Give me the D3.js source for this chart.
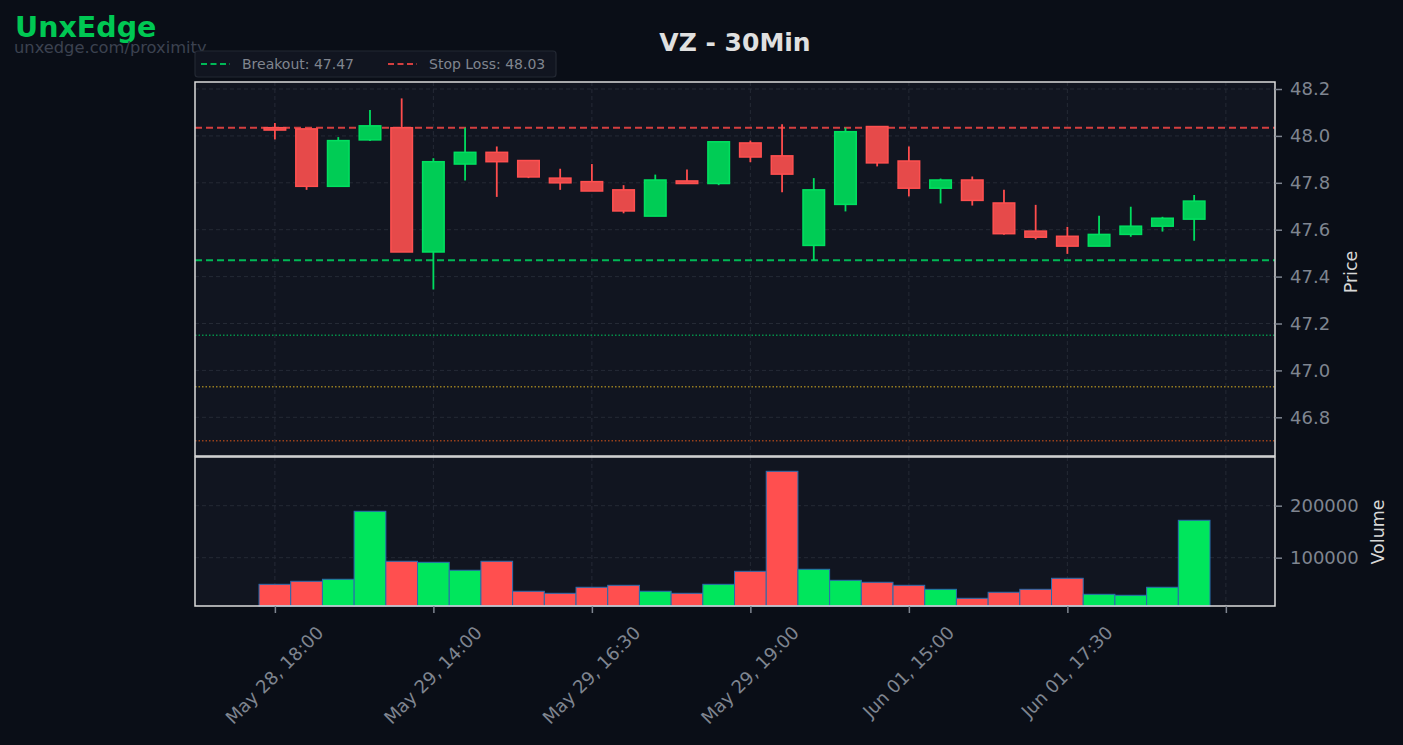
<!DOCTYPE html>
<html><head><meta charset="utf-8">
<script src="https://cdn.jsdelivr.net/npm/d3@7"></script>
<style>
html,body{margin:0;padding:0;background:#0a0e17;}
svg{display:block;font-family:"DejaVu Sans",sans-serif;}
</style></head><body>
<svg id="chart" width="1403" height="745"></svg>
<script>
// ---------- DATA ----------
const categories = [
  "May 28, 18:00","May 28, 18:30","May 28, 19:00","May 28, 19:30",
  "May 29, 13:30","May 29, 14:00","May 29, 14:30","May 29, 15:00","May 29, 15:30","May 29, 16:00",
  "May 29, 16:30","May 29, 17:00","May 29, 17:30","May 29, 18:00","May 29, 18:30",
  "May 29, 19:00","May 29, 19:30","Jun 01, 13:30","Jun 01, 14:00","Jun 01, 14:30",
  "Jun 01, 15:00","Jun 01, 15:30","Jun 01, 16:00","Jun 01, 16:30","Jun 01, 17:00",
  "Jun 01, 17:30","Jun 01, 18:00","Jun 01, 18:30","Jun 01, 19:00","Jun 01, 19:30"
];
const opens  = [48.035,48.030,47.785,47.983,48.035,47.505,47.880,47.930,47.895,47.820,
                47.805,47.770,47.658,47.808,47.797,47.970,47.915,47.533,47.708,48.040,
                47.893,47.777,47.812,47.714,47.594,47.572,47.530,47.580,47.615,47.645];
const highs  = [48.055,48.030,47.995,48.110,48.160,47.905,48.035,47.955,47.895,47.860,
                47.880,47.790,47.835,47.857,47.975,47.980,48.050,47.820,48.035,48.040,
                47.955,47.818,47.827,47.770,47.706,47.612,47.660,47.698,47.655,47.748];
const lows   = [47.985,47.770,47.785,47.978,47.505,47.345,47.810,47.740,47.820,47.770,
                47.765,47.670,47.658,47.795,47.790,47.888,47.760,47.470,47.678,47.870,
                47.742,47.712,47.703,47.579,47.559,47.497,47.530,47.570,47.592,47.553];
const closes = [48.025,47.785,47.980,48.043,47.505,47.890,47.930,47.890,47.825,47.800,
                47.765,47.680,47.812,47.797,47.975,47.910,47.837,47.770,48.018,47.885,
                47.777,47.812,47.725,47.583,47.568,47.530,47.580,47.615,47.649,47.722];
const volumes = [48800,54600,58500,189200,93100,91100,75800,93100,35400,31500,
                 43100,46900,35400,31500,48800,73800,266100,77700,56500,52700,
                 46900,39200,21900,33500,39200,60400,29600,27700,43100,171900];

const priceTicks = [46.8,47.0,47.2,47.4,47.6,47.8,48.0,48.2];
const volumeTicks = [100000,200000];
const xTickIndex = [0,5,10,15,20,25,30];

const levelNames  = ["breakout","stopLoss","level3","level4","level5"];
const levelValues = [47.47, 48.035, 47.15, 46.93, 46.70];
const legendLabels = ["Breakout: 47.47","Stop Loss: 48.03"];

const titleText = "VZ - 30Min";
const brandText = "UnxEdge";
const brandUrl = "unxedge.com/proximity";

// ---------- LAYOUT ----------
const L = 195, R = 1275;
const pTop = 82, pBot = 456, vTop = 457, vBot = 606;

const svg = d3.select("#chart");
const x = d3.scaleLinear().domain([-2.52, 31.55]).range([L, R]);
const yP = d3.scaleLinear().domain([46.635, 48.2299]).range([pBot, pTop]);
const yV = d3.scaleLinear().domain([7100, 293600]).range([vBot, vTop]);
const unit = x(1) - x(0);

// background
svg.append("rect").attr("width",1403).attr("height",745).attr("fill","#0a0e17");
svg.append("rect").attr("x",L).attr("y",pTop).attr("width",R-L).attr("height",pBot-pTop).attr("fill","#111520");
svg.append("rect").attr("x",L).attr("y",vTop).attr("width",R-L).attr("height",vBot-vTop).attr("fill","#111520");

const gridColor = "#252a35";
// grids
const gP = svg.append("g");
gP.selectAll("line.h").data(priceTicks).join("line")
  .attr("x1",L).attr("x2",R).attr("y1",d=>yP(d)).attr("y2",d=>yP(d))
  .attr("stroke",gridColor).attr("stroke-width",1).attr("stroke-dasharray","4,3");
gP.selectAll("line.v").data(xTickIndex).join("line")
  .attr("x1",d=>x(d)).attr("x2",d=>x(d)).attr("y1",pTop).attr("y2",pBot)
  .attr("stroke",gridColor).attr("stroke-width",1).attr("stroke-dasharray","4,3");
const gV = svg.append("g");
gV.selectAll("line.h").data(volumeTicks).join("line")
  .attr("x1",L).attr("x2",R).attr("y1",d=>yV(d)).attr("y2",d=>yV(d))
  .attr("stroke",gridColor).attr("stroke-width",1).attr("stroke-dasharray","4,3");
gV.selectAll("line.v").data(xTickIndex).join("line")
  .attr("x1",d=>x(d)).attr("x2",d=>x(d)).attr("y1",vTop).attr("y2",vBot)
  .attr("stroke",gridColor).attr("stroke-width",1).attr("stroke-dasharray","4,3");

// level lines
const levelStyles = [
  {color:"#00b856", w:2, dash:"7,4", op:1},
  {color:"#d43f3f", w:2, dash:"7,4", op:1},
  {color:"#00b856", w:1.4, dash:"1.5,2", op:0.75},
  {color:"#c2a020", w:1.4, dash:"1.5,2", op:0.75},
  {color:"#c8501a", w:1.4, dash:"1.5,2", op:0.75}
];
svg.append("g").selectAll("line").data(levelValues).join("line")
  .attr("x1",L).attr("x2",R).attr("y1",d=>yP(d)).attr("y2",d=>yP(d))
  .attr("stroke",(d,i)=>levelStyles[i].color).attr("stroke-width",(d,i)=>levelStyles[i].w)
  .attr("stroke-dasharray",(d,i)=>levelStyles[i].dash).attr("opacity",(d,i)=>levelStyles[i].op);

// candles
const idx = d3.range(categories.length);
const up = i => closes[i] >= opens[i];
const cg = svg.append("g");
cg.selectAll("line.w").data(idx).join("line")
  .attr("x1",i=>x(i)).attr("x2",i=>x(i)).attr("y1",i=>yP(highs[i])).attr("y2",i=>yP(lows[i]))
  .attr("stroke",i=>up(i)?"#00dd5f":"#ff4d4d").attr("stroke-width",1.8);
const bw = 0.68;
cg.selectAll("rect").data(idx).join("rect")
  .attr("x",i=>x(i-bw/2)).attr("width",bw*unit)
  .attr("y",i=>yP(Math.max(opens[i],closes[i])))
  .attr("height",i=>Math.max(1, Math.abs(yP(opens[i])-yP(closes[i]))))
  .attr("fill",i=>up(i)?"#00cc55":"#e64a4a")
  .attr("stroke",i=>up(i)?"#00e060":"#ff5050").attr("stroke-width",1.5);

// volume bars
svg.append("g").selectAll("rect").data(idx).join("rect")
  .attr("x",i=>x(i-0.5)).attr("width",unit)
  .attr("y",i=>yV(volumes[i])).attr("height",i=>vBot-yV(volumes[i]))
  .attr("fill",i=>up(i)?"#00e65c":"#ff4f4f")
  .attr("stroke","#2a6db0").attr("stroke-width",1);

// spines
const spine = "#dcdcdc";
svg.append("rect").attr("x",L).attr("y",pTop).attr("width",R-L).attr("height",pBot-pTop)
  .attr("fill","none").attr("stroke",spine).attr("stroke-width",1.5);
svg.append("rect").attr("x",L).attr("y",vTop).attr("width",R-L).attr("height",vBot-vTop)
  .attr("fill","none").attr("stroke",spine).attr("stroke-width",1.5);

// axes
const tickColor = "#7f8590";
const fs = 18;
const axP = d3.axisRight(yP).tickValues(priceTicks).tickFormat(d3.format(".1f")).tickSize(7).tickPadding(8);
const gAP = svg.append("g").attr("transform",`translate(${R},0)`).call(axP);
const axV = d3.axisRight(yV).tickValues(volumeTicks).tickFormat(d=>String(d)).tickSize(7).tickPadding(8);
const gAV = svg.append("g").attr("transform",`translate(${R},0)`).call(axV);
const axX = d3.axisBottom(x).tickValues(xTickIndex).tickFormat(d=>categories[d]||"").tickSize(7);
const gAX = svg.append("g").attr("transform",`translate(0,${vBot})`).call(axX);
[gAP,gAV,gAX].forEach(g=>{
  g.select(".domain").remove();
  g.selectAll(".tick line").attr("stroke",tickColor).attr("stroke-width",1.5);
  g.selectAll(".tick text").attr("fill",tickColor).attr("font-size",fs).attr("font-family","DejaVu Sans");
});
// rotate x labels (matplotlib style: rotated bbox centered under tick)
gAX.selectAll(".tick text").each(function(d){
  const t = d3.select(this);
  const w = this.getComputedTextLength();
  const h = fs*1.0;
  const s = Math.SQRT1_2;
  const cy = 17 + (w + h)*s/2;
  t.attr("y",null).attr("dy","0.35em").attr("text-anchor","middle")
   .attr("transform",`translate(-1,${cy}) rotate(-45)`);
});

// axis titles
svg.append("text").attr("transform",`translate(1357,272) rotate(-90)`)
  .attr("text-anchor","middle").attr("fill","#d8d8d8").attr("font-size",17.5).text("Price");
svg.append("text").attr("transform",`translate(1384,532) rotate(-90)`)
  .attr("text-anchor","middle").attr("fill","#d8d8d8").attr("font-size",17.5).text("Volume");

// title
svg.append("text").attr("x",735).attr("y",51).attr("text-anchor","middle")
  .attr("fill","#e0e0e0").attr("font-size",25).attr("font-weight","bold").text(titleText);

// brand
svg.append("text").attr("x",15).attr("y",37).attr("fill","#00c853")
  .attr("font-size",28.5).attr("font-weight","bold").text(brandText);
svg.append("text").attr("x",14).attr("y",53).attr("fill","#3c4250")
  .attr("font-size",16.3).text(brandUrl);

// legend
const lg = svg.append("g");
lg.append("rect").attr("x",195).attr("y",51).attr("width",361).attr("height",26).attr("rx",3)
  .attr("fill","#111520").attr("stroke","#232833").attr("stroke-width",1.2);
const legX = [201, 388];
legendLabels.forEach((lab,i)=>{
  lg.append("line").attr("x1",legX[i]).attr("x2",legX[i]+29).attr("y1",64).attr("y2",64)
    .attr("stroke",levelStyles[i].color).attr("stroke-width",2).attr("stroke-dasharray","6,3.5");
  lg.append("text").attr("x",legX[i]+41).attr("y",69).attr("fill","#80858f")
    .attr("font-size",14).text(lab);
});
</script>
</body></html>
